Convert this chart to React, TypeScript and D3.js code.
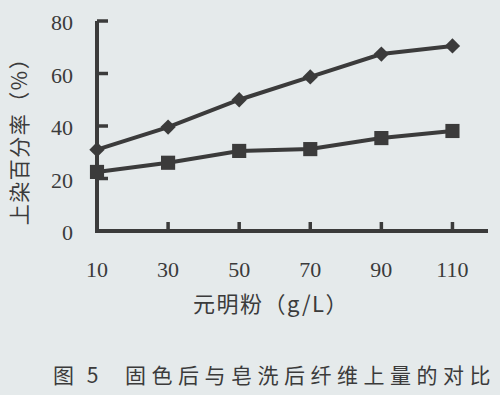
import React from "react";
import * as d3 from "d3";

const xValues = [10, 30, 50, 70, 90, 110];
const fixedSeries = [31, 39.6, 50, 58.7, 67.4, 70.5];
const soapedSeries = [22.5, 26, 30.5, 31.2, 35.4, 38.1];
const xTicks = [10, 30, 50, 70, 90, 110];
const yTicks = [0, 20, 40, 60, 80];
const yTitle = "上染百分率（%）";
const xTitle = "元明粉（g/L）";
const captionA = "图 5";
const captionB = "固色后与皂洗后纤维上量的对比";

export default function App() {
  const W = 500, H = 395;
  const x = d3.scaleLinear().domain([10, 120]).range([97, 488]);
  const y = d3.scaleLinear().domain([0, 80]).range([231, 21]);
  const ink = "#3b3b3b";
  const line = d3.line<number>().x((_, i) => x(xValues[i])).y((d) => y(d));
  const diamond = d3.symbol().type(d3.symbolDiamond2).size(150)();
  const square = d3.symbol().type(d3.symbolSquare).size(200)();
  const serif = "Liberation Serif, DejaVu Serif, serif";
  const cjk = "Noto Sans CJK SC, sans-serif";
  return (
    <svg width={W} height={H} style={{ position: "absolute", left: 0, top: 0, background: "#e5eaeb" }}>
      <rect width={W} height={H} fill="#e5eaeb" />
      <path d={`M${x(10)},${y(80)}V${y(0)}H${x(120)}`} fill="none" stroke={ink} strokeWidth={4} strokeLinejoin="miter" />
      {yTicks.filter((t) => t > 0).map((t) => (
        <line key={"yt" + t} x1={x(10)} x2={x(10) + 11} y1={y(t)} y2={y(t)} stroke={ink} strokeWidth={3.5} />
      ))}
      {xTicks.filter((t) => t > 10).map((t) => (
        <line key={"xt" + t} x1={x(t)} x2={x(t)} y1={y(0)} y2={y(0) - 9} stroke={ink} strokeWidth={3.5} />
      ))}
      {yTicks.map((t) => (
        <text key={"yl" + t} x={73} y={y(t) + 4} textAnchor="end" dominantBaseline="middle" fontFamily={serif} fontSize={22} fill={ink}>{t}</text>
      ))}
      {xTicks.map((t) => (
        <text key={"xl" + t} x={x(t)} y={272} textAnchor="middle" dominantBaseline="middle" fontFamily={serif} fontSize={22} fill={ink}>{t}</text>
      ))}
      <path d={line(fixedSeries) || ""} fill="none" stroke={ink} strokeWidth={4} />
      <path d={line(soapedSeries) || ""} fill="none" stroke={ink} strokeWidth={4} />
      {fixedSeries.map((v, i) => (
        <path key={"d" + i} d={diamond || ""} transform={`translate(${x(xValues[i])},${y(v)})`} fill={ink} />
      ))}
      {soapedSeries.map((v, i) => (
        <path key={"s" + i} d={square || ""} transform={`translate(${x(xValues[i])},${y(v)})`} fill={ink} />
      ))}
      <text transform={`translate(21,136) rotate(-90)`} textAnchor="middle" dominantBaseline="middle" fontFamily={cjk} fontSize={21} letterSpacing={1.5} fill={ink}>{yTitle}</text>
      <text x={271} y={306} textAnchor="middle" dominantBaseline="middle" fontFamily={cjk} fontSize={22} letterSpacing={1.5} fill={ink}>{xTitle}</text>
      <text x={53} y={377} dominantBaseline="middle" fontFamily={cjk} fontSize={21} fill={ink} letterSpacing={4}>{captionA}</text>
      <text x={125} y={377} dominantBaseline="middle" fontFamily={cjk} fontSize={21} fill={ink} letterSpacing={5.5}>{captionB}</text>
    </svg>
  );
}
